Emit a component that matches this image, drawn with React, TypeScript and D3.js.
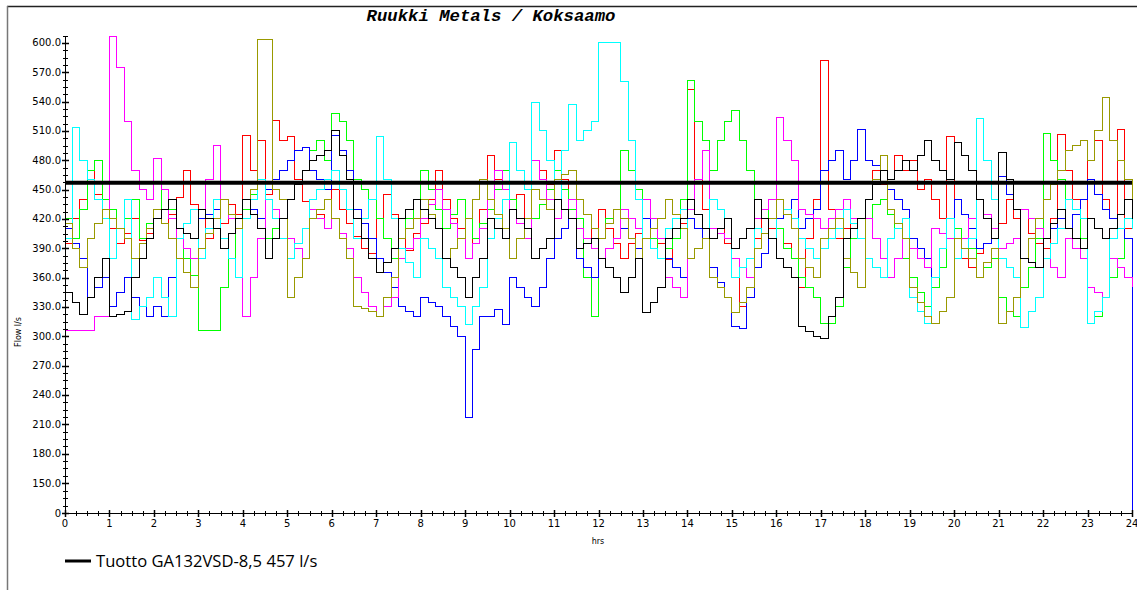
import { useEffect, useRef } from 'react';
import * as d3 from 'd3';

// one reading every 10 minutes, 0..24 hrs (6 per hour, 145 points per compressor)
const red = [
    395, 420, 440, 470, 445, 430,
    410, 395, 405, 420, 398, 405,
    430, 415, 425, 442, 470, 435,
    420, 400, 410, 415, 435, 425,
    505, 470, 500, 445, 521, 500,
    504, 460, 438, 420, 425, 410,
    450, 430, 415, 402, 390, 385,
    420, 445, 425, 400, 388, 405,
    415, 440, 470, 440, 420, 410,
    380, 400, 430, 485, 460, 450,
    430, 445, 420, 480, 470, 455,
    490, 460, 440, 420, 400, 410,
    430, 410, 395, 380, 395, 405,
    420, 410, 395, 378, 400, 415,
    552, 460, 430, 400, 410, 395,
    360, 330, 350, 400, 420, 410,
    410, 395, 380, 350, 400, 440,
    582, 430, 400, 410, 415, 420,
    440, 470, 455, 460, 485, 470,
    480, 450, 460, 440, 420, 504,
    400, 380, 370, 385, 395, 410,
    415, 440, 420, 430, 405, 395,
    390, 420, 506, 470, 440, 400,
    480, 500, 440, 420, 511, 410,
    430,
];
const green = [
    420, 400, 430, 470, 480, 440,
    430, 410, 420, 440, 400, 415,
    420, 450, 430, 400, 380, 362,
    306, 306, 306, 350, 380, 410,
    430, 445, 460, 400, 410, 420,
    440, 455, 470, 490, 500, 480,
    528, 520, 500, 460, 450, 440,
    420, 400, 380, 400, 420, 440,
    470, 450, 430, 410, 425, 440,
    420, 400, 415, 430, 450, 470,
    440, 420, 400, 420, 435, 450,
    470, 450, 430, 420, 360, 320,
    400, 420, 430, 490, 470, 450,
    420, 400, 380, 390, 400, 440,
    562, 520, 500, 470, 500, 520,
    531, 500, 470, 440, 430, 400,
    410, 390, 380, 360, 350, 340,
    313, 313, 330, 370, 400, 420,
    420, 435, 440, 425, 410, 380,
    360, 345, 330, 350, 370, 400,
    410, 400, 390, 360, 370, 380,
    340, 325, 320, 350, 370, 400,
    507, 480, 460, 440, 430, 400,
    313, 320, 340, 360, 380, 420,
    440,
];
const blue = [
    410, 395, 380, 340, 350, 360,
    330, 345, 360, 340, 330, 320,
    330, 320, 360, 400, 390, 380,
    420, 425, 430, 440, 425, 410,
    440, 430, 420, 450, 460, 470,
    480, 490, 493, 470, 460, 450,
    505, 490, 470, 430, 415, 400,
    380, 365, 350, 330, 325, 320,
    340, 335, 330, 320, 310, 300,
    217, 286, 320, 320, 327, 312,
    360, 350, 340, 330, 350, 380,
    400, 410, 420, 380, 370, 360,
    400, 415, 430, 410, 400, 390,
    420, 410, 400, 380, 370, 360,
    420, 410, 400, 370, 355, 340,
    310, 308, 340, 370, 385, 400,
    420, 430, 440, 410, 420, 430,
    470, 480, 490, 460, 480, 511,
    480, 475, 470, 450, 440, 430,
    400, 390, 380, 360, 390, 420,
    440, 425, 410, 390, 395, 400,
    463, 445, 430, 380, 375, 370,
    400, 410, 420, 410, 425, 440,
    460, 445, 430, 420, 410, 400,
    0,
];
const magenta = [
    306, 306, 306, 306, 320, 320,
    607, 575, 520, 470, 450, 440,
    482, 450, 420, 400, 390, 380,
    430, 460, 495, 440, 420, 410,
    320, 360, 400, 440, 430, 420,
    400, 390, 380, 430, 420, 410,
    420, 405, 390, 360, 345, 330,
    320, 330, 340, 380, 390, 400,
    420, 435, 450, 430, 415, 400,
    380, 395, 410, 440, 470, 450,
    430, 415, 400, 480, 460, 440,
    420, 430, 440, 410, 400, 390,
    380, 390, 400, 430, 420, 410,
    440, 420, 400, 360, 350, 340,
    430, 460, 490, 410, 405, 400,
    380, 370, 360, 420, 430, 440,
    524, 500, 480, 430, 425, 420,
    410, 420, 430, 440, 420, 400,
    420, 400, 380, 360, 380, 400,
    390, 380, 370, 410, 405, 400,
    380, 400, 420, 440, 425, 410,
    390, 395, 400, 430, 420, 410,
    380, 370, 360, 400, 390, 380,
    350, 345, 340, 380, 370, 360,
    350,
];
const cyan = [
    400, 513, 480, 460, 440, 420,
    380, 410, 440, 317, 330, 340,
    360, 340, 320, 400, 415, 430,
    380, 410, 440, 400, 380, 360,
    420, 440, 460, 440, 420, 400,
    380, 395, 410, 440, 450, 460,
    470, 450, 430, 400, 420, 440,
    504, 460, 420, 390, 375, 360,
    400, 390, 380, 350, 340, 330,
    312, 330, 350, 400, 420, 440,
    498, 470, 450, 539, 510, 480,
    440, 490, 537, 500, 510, 520,
    600, 600, 600, 560, 500, 440,
    400, 390, 380, 410, 420, 430,
    380, 390, 400, 440, 430, 420,
    360, 370, 380, 410, 405, 400,
    440, 430, 420, 400, 390, 380,
    390, 400, 410, 430, 415, 400,
    380, 370, 360, 400, 410, 420,
    340, 325, 313, 360, 390, 420,
    380, 390, 400, 523, 480, 440,
    380, 370, 360, 309, 325, 340,
    380, 395, 410, 440, 430, 420,
    313, 325, 340, 400, 410, 420,
    410,
];
const olive = [
    415, 390, 370, 400, 415, 430,
    420, 410, 400, 380, 395, 410,
    430, 415, 400, 380, 365, 350,
    390, 405, 420, 440, 425, 410,
    440, 450, 603, 603, 450, 440,
    340, 360, 380, 420, 430, 440,
    420, 400, 380, 330, 328, 325,
    320, 340, 360, 400, 410, 420,
    440, 425, 410, 380, 390, 400,
    420, 440, 460, 440, 425, 410,
    380, 400, 420, 450, 440, 430,
    460, 465, 470, 440, 425, 410,
    400, 415, 430, 420, 400, 380,
    400, 410, 420, 440, 425, 410,
    380, 390, 400, 360, 350, 340,
    324, 335, 350, 390, 405, 420,
    440, 425, 410, 380, 370, 360,
    400, 410, 420, 380, 365, 350,
    440, 460, 485, 430, 415, 400,
    350, 335, 320, 313, 325, 340,
    400, 390, 380, 360, 375, 390,
    313, 325, 340, 380, 400, 420,
    440, 455, 470, 490, 495, 500,
    480, 510, 544, 500, 480, 460,
    430,
];
const black = [
    345, 335, 322, 340, 360, 380,
    320, 322, 325, 360, 380, 400,
    420, 430, 440, 410, 405, 400,
    430, 420, 410, 390, 405, 420,
    440, 425, 410, 380, 400, 420,
    440, 455, 470, 480, 485, 490,
    510, 485, 460, 420, 400, 380,
    365, 375, 390, 420, 430, 440,
    430, 420, 410, 380, 370, 360,
    340, 360, 380, 420, 410, 400,
    430, 420, 410, 380, 390, 400,
    440, 430, 420, 390, 395, 400,
    380, 370, 360, 345, 360, 380,
    324, 335, 350, 400, 410, 420,
    440, 425, 410, 400, 410, 420,
    390, 400, 410, 440, 420, 400,
    380, 370, 360, 310, 305, 300,
    298, 320, 340, 400, 410, 420,
    440, 455, 470, 460, 470, 480,
    470, 485, 500, 480, 470, 460,
    498, 485, 470, 440, 420, 400,
    488, 460, 430, 380, 375, 370,
    400, 415, 430, 410, 400, 390,
    420, 410, 400, 410, 425, 440,
    420,
];

const seriesList = [red, green, blue, magenta, cyan, olive, black];
const seriesColors = ['#ff0000', '#00ff00', '#0000ff', '#ff00ff', '#00ffff', '#999900', '#000000'];
const stepHrs = 1 / 6;

const capacity = 457;
const yMajorTicks = [0, 150, 180, 210, 240, 270, 300, 330, 360, 390, 420, 450, 480, 510, 540, 570, 600];
const xMajorTicks = d3.range(0, 25);
const chartTitle = 'Ruukki Metals / Koksaamo';
const legendLabel = 'Tuotto GA132VSD-8,5 457 l/s';

const App = () => {
    const svgRef = useRef<SVGSVGElement>(null);

    useEffect(() => {
        if (!svgRef.current) return;
        d3.select(svgRef.current).selectAll('*').remove();

        const width = 1137;
        const height = 590;
        const plot = { left: 65, right: 1132, top: 36, bottom: 513 };

        const svg = d3.select(svgRef.current)
            .attr('width', width)
            .attr('height', height);

        // frame
        svg.append('line').attr('x1', 7).attr('x2', width).attr('y1', 6.5).attr('y2', 6.5)
            .attr('stroke', '#222').attr('stroke-width', 1.5);
        svg.append('line').attr('x1', 7.5).attr('x2', 7.5).attr('y1', 6).attr('y2', height)
            .attr('stroke', '#777').attr('stroke-width', 1.5);

        const xScale = d3.scaleLinear().domain([0, 24]).range([plot.left, plot.right]);
        // broken axis: 0 sits one 30-step below 150
        const yScale = d3.scaleLinear().domain([0, 150, 607]).range([plot.bottom, 483, plot.top]);

        svg.append('defs').append('clipPath').attr('id', 'plotClip')
            .append('rect')
            .attr('x', plot.left).attr('y', plot.top - 2)
            .attr('width', plot.right - plot.left + 1).attr('height', plot.bottom - plot.top + 2);

        const line = d3.line<number>()
            .x((_, i) => xScale(i * stepHrs))
            .y(d => yScale(d))
            .curve(d3.curveStepAfter);

        const lines = svg.append('g').attr('clip-path', 'url(#plotClip)');
        seriesList.forEach((s, k) => {
            lines.append('path')
                .datum(s)
                .attr('d', line)
                .attr('fill', 'none')
                .attr('stroke', seriesColors[k])
                .attr('stroke-width', 1)
                .attr('shape-rendering', 'crispEdges');
        });

        // capacity line
        svg.append('line')
            .attr('x1', plot.left).attr('x2', plot.right)
            .attr('y1', yScale(capacity)).attr('y2', yScale(capacity))
            .attr('stroke', '#000').attr('stroke-width', 4);

        // y axis
        const yAxis = svg.append('g').attr('stroke', '#000');
        yAxis.append('line')
            .attr('x1', plot.left + 0.5).attr('x2', plot.left + 0.5)
            .attr('y1', plot.top).attr('y2', plot.bottom);
        const yMinor = d3.range(0, 600.1, 7.5).filter(v => v < 150 ? v % 37.5 === 0 : true)
            .concat([607]);
        yAxis.selectAll('.ymin').data(yMinor).enter().append('line')
            .attr('x1', plot.left - 2).attr('x2', plot.left + 3)
            .attr('y1', d => Math.round(yScale(d)) + 0.5).attr('y2', d => Math.round(yScale(d)) + 0.5);
        yAxis.selectAll('.ymaj').data(yMajorTicks).enter().append('line')
            .attr('x1', plot.left - 3).attr('x2', plot.left + 4)
            .attr('y1', d => Math.round(yScale(d)) + 0.5).attr('y2', d => Math.round(yScale(d)) + 0.5)
            .attr('stroke-width', 1.5);
        svg.append('g').selectAll('text').data(yMajorTicks).enter().append('text')
            .attr('x', plot.left - 4)
            .attr('y', d => yScale(d) + 3.5)
            .attr('text-anchor', 'end')
            .style('font-family', 'DejaVu Sans, sans-serif')
            .style('font-size', '10px')
            .text(d => d === 0 ? '0' : d.toFixed(1));

        // x axis
        const xAxis = svg.append('g').attr('stroke', '#000');
        xAxis.append('line')
            .attr('x1', plot.left).attr('x2', plot.right + 1)
            .attr('y1', plot.bottom + 0.5).attr('y2', plot.bottom + 0.5);
        const xMinor = d3.range(0, 24.01, 0.25);
        xAxis.selectAll('.xmin').data(xMinor).enter().append('line')
            .attr('x1', d => Math.round(xScale(d)) + 0.5).attr('x2', d => Math.round(xScale(d)) + 0.5)
            .attr('y1', plot.bottom - 2).attr('y2', plot.bottom + 3);
        xAxis.selectAll('.xmaj').data(xMajorTicks).enter().append('line')
            .attr('x1', d => Math.round(xScale(d)) + 0.5).attr('x2', d => Math.round(xScale(d)) + 0.5)
            .attr('y1', plot.bottom - 3).attr('y2', plot.bottom + 4)
            .attr('stroke-width', 1.5);
        svg.append('g').selectAll('text').data(xMajorTicks).enter().append('text')
            .attr('x', d => xScale(d))
            .attr('y', plot.bottom + 14)
            .attr('text-anchor', 'middle')
            .style('font-family', 'DejaVu Sans, sans-serif')
            .style('font-size', '10px')
            .text(d => String(d));

        // axis titles
        svg.append('text')
            .attr('x', 598).attr('y', 544)
            .attr('text-anchor', 'middle')
            .style('font-family', 'DejaVu Sans, sans-serif')
            .style('font-size', '8px')
            .text('hrs');
        svg.append('text')
            .attr('transform', 'translate(21,332) rotate(-90)')
            .attr('text-anchor', 'middle')
            .style('font-family', 'DejaVu Sans, sans-serif')
            .style('font-size', '8px')
            .text('Flow l/s');

        // title
        svg.append('text')
            .attr('x', 491).attr('y', 21)
            .attr('text-anchor', 'middle')
            .style('font-family', 'Liberation Mono, monospace')
            .style('font-size', '17.3px')
            .style('font-style', 'italic')
            .style('font-weight', 'bold')
            .text(chartTitle);

        // legend
        svg.append('line')
            .attr('x1', 65).attr('x2', 91).attr('y1', 561).attr('y2', 561)
            .attr('stroke', '#000').attr('stroke-width', 3);
        svg.append('text')
            .attr('x', 96).attr('y', 567)
            .style('font-family', 'Open Sans, sans-serif')
            .style('font-size', '16.6px')
            .text(legendLabel);
    }, []);

    return (
        <div style={{ position: 'absolute', left: 0, top: 0 }}>
            <svg ref={svgRef} style={{ display: 'block' }}></svg>
        </div>
    );
};

export default App;
